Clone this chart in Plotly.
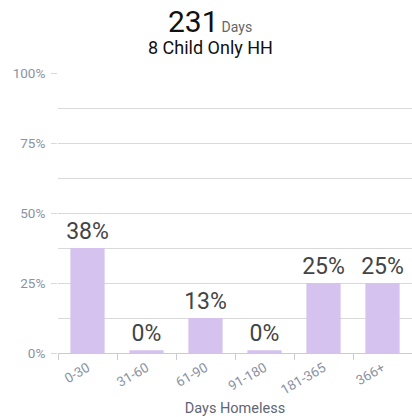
import plotly.graph_objects as go

categories = ["0-30", "31-60", "61-90", "91-180", "181-365", "366+"]
percents = [37.5, 0, 12.5, 0, 25, 25]
labels = ["38%", "0%", "13%", "0%", "25%", "25%"]
total_days = 231
subtitle = "8 Child Only HH"
y_ticks = [0, 25, 50, 75, 100]
y_tick_text = ["0%", "25%", "50%", "75%", "100%"]

# zero-valued bars are drawn with a tiny visible stub, as in the reference
shown = [v if v > 0 else 1 for v in percents]

fig = go.Figure(go.Bar(
    x=categories, y=shown, text=labels, textposition="outside",
    constraintext="none",
    textfont=dict(family="Roboto", size=23, color="#444444"),
    marker=dict(color="#d5c2ee", line=dict(width=0)),
    width=0.58, cliponaxis=False, hoverinfo="skip",
))

cx = (210 - 58) / 354

fig.update_layout(
    width=412, height=417,
    margin=dict(l=58, r=0, t=73, b=64),
    paper_bgcolor="white", plot_bgcolor="white",
    showlegend=False,
    font=dict(family="Roboto", color="#8a93a3"),
    annotations=[
        dict(text=f"<span style='font-size:30px;color:#111'>{total_days}</span> <span style='font-size:14px;color:#666'>Days</span>",
             x=cx, xref="paper", y=1, yref="paper", yanchor="middle", yshift=52, showarrow=False),
        dict(text=subtitle, x=cx, xref="paper", y=1, yref="paper", yanchor="middle", yshift=26,
             showarrow=False, font=dict(size=18, color="#111111")),
    ],
)

fig.update_yaxes(
    range=[0, 100], tickvals=y_ticks, ticktext=y_tick_text,
    showgrid=True, gridcolor="#d9d9d9", gridwidth=1,
    ticks="outside", ticklen=6, tickcolor="#d9d9d9",
    tickfont=dict(size=13.5, color="#8a93a3"), ticklabelstandoff=3,
    minor=dict(dtick=12.5, showgrid=True, gridcolor="#d9d9d9", ticks=""),
    zeroline=False, fixedrange=True, automargin=False,
)
fig.update_xaxes(
    tickangle=-30, tickson="boundaries", ticks="outside", ticklen=6,
    tickcolor="#cccccc", showline=True, linecolor="#cccccc",
    tickfont=dict(size=13.5, color="#8a93a3"), automargin=False,
    ticklabelstandoff=1,
    title=dict(text="Days Homeless", font=dict(size=14.5, color="#5f6675"), standoff=9),
)

fig.write_html("out.html", config={"displayModeBar": False},
               post_script="document.body.style.margin='0';")
